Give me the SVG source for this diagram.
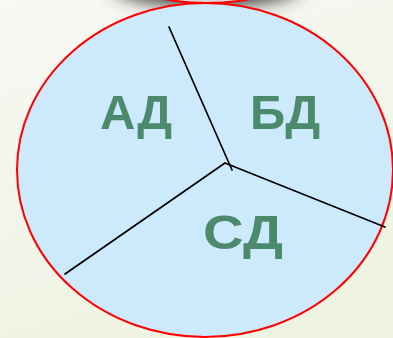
<svg xmlns="http://www.w3.org/2000/svg" width="393" height="338" viewBox="0 0 393 338">
  <defs>
    <linearGradient id="bg" x1="0" y1="0" x2="0.3" y2="1">
      <stop offset="0" stop-color="#f8f8f4"/>
      <stop offset="1" stop-color="#eef3e2"/>
    </linearGradient>
    <filter id="blur" x="-50%" y="-50%" width="200%" height="200%">
      <feGaussianBlur stdDeviation="9"/>
    </filter>
    <style>
      .lbl { font-family: "Liberation Sans", "DejaVu Sans", sans-serif; font-weight: bold; font-size: 49px; fill: #4b8a6c; text-anchor: middle; }
      .edge { stroke: #000; stroke-width: 1.7; fill: none; stroke-linecap: round; stroke-linejoin: round; }
    </style>
  </defs>
  <rect width="393" height="338" fill="url(#bg)"/>
  <g id="top-shape">
    <ellipse cx="207" cy="-16" rx="95" ry="22" fill="#333" filter="url(#blur)"/>
    <ellipse cx="207" cy="-30" rx="89" ry="33" fill="#d8d8d8" stroke="#ff0000" stroke-width="2"/>
  </g>
  <g id="circle">
    <ellipse cx="205" cy="170" rx="188" ry="167" fill="#cceafc" stroke="#ff0000" stroke-width="2"/>
  </g>
  <g id="connectors">
    <path class="edge" d="M169 27 L232 170"/>
    <path class="edge" d="M65 274 L225 163 L230 165"/>
    <path class="edge" d="M230 165 L385 227"/>
  </g>
  <g id="AD"><text class="lbl" x="136" y="129">АД</text></g>
  <g id="BD"><text class="lbl" x="285" y="129">БД</text></g>
  <g id="SD"><text class="lbl" x="243" y="249" textLength="80" lengthAdjust="spacingAndGlyphs">СД</text></g>
</svg>
